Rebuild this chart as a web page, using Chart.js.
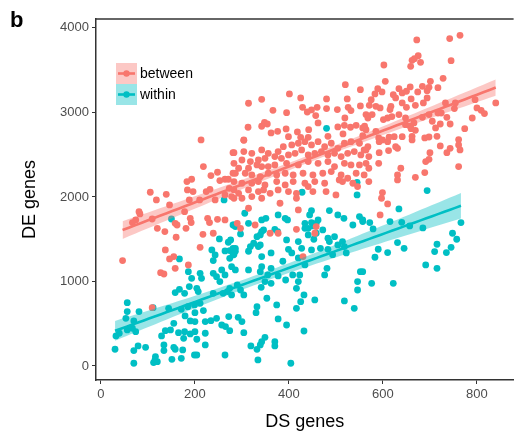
<!DOCTYPE html>
<html lang="en">
<head>
<meta charset="UTF-8">
<title>DE genes vs DS genes</title>
<style>
  html, body { margin: 0; padding: 0; background: #fff; }
  #wrap { width: 517px; height: 437px; }
</style>
</head>
<body>
<div id="wrap"><canvas id="chart" width="517" height="437"></canvas></div>
<script src="https://cdn.jsdelivr.net/npm/chart.js"></script>
<script>
// [DS genes, DE genes] per comparison
const between = [
  [520,3328],[552,3269],[401,3218],[342,3155],[425,3171],[480,3159],[314,3108],[366,3025],[395,2997],[429,3060],
  [448,3029],[439,3005],[460,3060],[457,2962],[480,3045],[503,3033],[524,3159],[526,3060],[532,3021],[519,2934],
  [552,3076],[564,2974],[313,2824],[342,2836],[348,2883],[354,2863],[362,2757],[376,2776],[394,2804],[399,2713],
  [418,2769],[442,2796],[462,2875],[504,2828],[518,2847],[531,2824],[543,2847],[557,2816],[557,2725],[304,2670],
  [425,2705],[441,2705],[483,2717],[515,2745],
  [672,3857],[742,3873],[764,3912],[675,3671],[662,3616],[667,3636],[680,3593],[659,3545],[602,3561],[745,3612],
  [605,3368],[728,3403],[701,3368],[684,3309],[698,3297],[717,3293],[694,3257],[674,3242],[658,3301],[650,3250],
  [634,3281],[641,3230],[622,3210],[627,3171],[589,3281],[598,3242],[583,3218],[575,3151],[571,3084],[577,2974],
  [568,2934],[585,3072],[594,3053],[617,3072],[615,3033],[641,3112],[650,3060],[660,3159],[669,3084],[694,3171],
  [686,3112],[634,2974],[648,2934],[610,2934],[601,2915],[619,2950],[684,2942],[698,2974],[717,2993],[724,2993],
  [736,2942],[705,2895],[722,2863],[712,2816],[743,2863],[733,3112],[754,3112],[752,3045],[796,3151],[800,3053],
  [809,3025],[816,2986],[840,3112],[790,2934],[774,2808],[648,2855],[658,2836],[666,2875],[669,2788],[660,2808],
  [662,2717],[641,2713],[624,2713],[613,2706],[591,2698],[564,2796],[561,2836],[689,2698],[698,2709],[715,2717],
  [761,2678],[585,2776],
  [213,2674],[281,2524],[218,2359],[234,2252],[248,2292],[183,2181],[193,2209],[253,2193],[264,2209],[271,2209],
  [281,2280],[184,2083],[196,2063],[105,2055],[139,2031],[118,1964],[146,1905],[188,1964],[210,1964],[224,2063],
  [232,2090],[243,1964],[273,2102],[264,2024],[278,2004],[81,1826],[83,1799],[74,1728],[67,1696],[109,1739],
  [178,1826],[158,1688],[162,1668],[190,1747],[192,1696],[120,1629],[136,1590],[181,1629],[160,1523],[227,1747],
  [231,1696],[248,1735],[264,1728],[217,1558],[239,1570],[211,1404],[137,1373],[155,1294],[146,1266],[46,1247],
  [158,1155],[186,1195],[127,1104],[134,1088],[109,690],
  [304,2674],[283,2524],[304,2536],[321,2516],[342,2556],[356,2516],[377,2536],[388,2595],[406,2615],[420,2635],
  [434,2654],[448,2615],[462,2654],[476,2595],[490,2635],[504,2575],[518,2635],[532,2654],[550,2635],[560,2556],
  [553,2497],[539,2536],[525,2516],[511,2477],[497,2516],[483,2497],[469,2536],[455,2516],[441,2497],[427,2556],
  [413,2516],[399,2497],[384,2457],[370,2477],[349,2457],[335,2437],[318,2418],[300,2437],[283,2398],[293,2339],
  [314,2339],[332,2378],[342,2359],[356,2359],[370,2378],[395,2398],[420,2378],[441,2418],[462,2398],[483,2418],
  [497,2359],[518,2398],[532,2378],[550,2378],[564,2398],[286,2280],[307,2280],[321,2260],[339,2240],[356,2280],
  [374,2260],[392,2280],[409,2260],[430,2280],[451,2260],[472,2280],[490,2300],[511,2260],[525,2221],[543,2280],
  [560,2260],[283,2181],[300,2162],[321,2162],[335,2181],[349,2142],[374,2181],[392,2142],[409,2181],[434,2162],
  [455,2181],[476,2162],[507,2201],[514,2181],[536,2162],[283,2083],[293,2043],[314,2083],[335,2063],[346,2083],
  [360,2043],[377,2083],[399,2063],[416,2043],[441,2122],[451,2063],[479,2063],[500,2024],[546,2122],[283,1984],
  [300,1984],[321,2004],[342,1984],[381,1925],[416,1984],[420,1846],[314,1866],[297,1629],[290,1688],[328,1668],
  [360,1570],[377,1570],[416,1617],[458,1649],[455,1570],[430,1294],
  [592,2654],[599,2674],[610,2654],[627,2595],[631,2575],[612,2548],[592,2524],[568,2595],[564,2556],[570,2477],
  [591,2398],[570,2339],[570,2181],[631,2260],[631,2201],[638,2339],[669,2232],[689,2288],[691,2418],[698,2445],
  [700,2524],[722,2603],[736,2524],[743,2575],[761,2615],[764,2556],[761,2359],[662,2674],[599,2051],[597,1984],
  [610,1917],[594,1787]
];

const within = [
  [480,2812],
  [262,1964],[150,1739],[281,1668],[252,1503],[271,1464],[236,1373],[243,1314],[264,1361],[274,1365],[281,1392],
  [274,1274],[281,1314],[239,1247],[167,1266],
  [428,2055],[545,2173],[545,2024],[306,1807],[286,1649],[283,1668],[314,1688],[342,1728],[351,1747],[377,1787],
  [392,1747],[397,1728],[448,1838],[444,1787],[486,1838],[504,1787],[517,1747],[550,1767],[557,1708],[462,1728],
  [458,1688],[448,1696],[434,1688],[434,1629],[441,1629],[451,1657],[472,1609],[536,1668],[346,1609],[342,1590],
  [370,1617],[376,1590],[332,1530],[339,1550],[297,1562],[325,1452],[339,1432],[335,1412],[318,1412],[286,1392],
  [276,1491],[395,1491],[420,1472],[441,1550],[453,1499],[458,1570],[483,1511],[486,1472],[497,1530],[504,1432],
  [514,1472],[518,1412],[483,1380],[467,1392],[427,1392],[448,1373],[399,1380],[406,1337],[362,1337],[342,1294],
  [314,1357],[286,1357],[283,1318],[493,1317],[522,1337],[420,1278],[387,1239],
  [694,2075],[634,1858],[557,1728],[572,1696],[579,1621],[615,1708],[640,1700],[657,1657],[685,1633],[766,1696],
  [748,1570],[757,1499],[715,1440],[710,1353],[735,1341],[745,1404],[631,1460],[645,1392],[590,1381],[610,1341],
  [583,1286],[691,1196],
  [278,1175],[186,1116],[211,1096],[239,1096],[246,1057],[257,1136],[264,1077],[193,1037],[214,1037],[253,998],
  [188,939],[158,868],[167,907],[178,860],[204,919],[207,880],[239,860],[260,860],[269,880],[278,840],
  [274,919],[56,749],[56,643],[81,643],[53,564],[70,533],[111,690],[144,682],[171,670],[185,702],
  [199,722],[211,741],[200,631],[218,655],[179,592],[190,533],[200,525],[155,505],[222,525],[234,536],
  [246,564],[257,485],[265,466],[274,418],[56,426],[67,446],[39,387],[32,355],[74,406],[137,418],
  [148,426],[129,355],[165,394],[178,406],[190,379],[200,406],[176,327],[204,316],[222,387],[222,249],
  [79,237],[95,221],[70,182],[30,198],[134,249],[134,182],[155,221],[158,198],[174,190],[171,91],
  [151,79],[116,111],[115,71],[112,40],[120,51],[199,130],[204,130],[264,130],[70,32],
  [314,1136],[286,1136],[342,1175],[362,1155],[434,1195],[408,1077],[423,1077],[339,1116],[355,1077],[377,1065],
  [349,998],[362,978],[341,931],[393,1017],[420,998],[416,919],[476,1077],[481,1155],[552,1116],[546,998],
  [546,899],[432,840],[425,761],[455,781],[518,769],[539,682],[374,722],[416,682],[353,801],[332,702],
  [330,631],[290,958],[297,899],[304,840],[272,584],[292,576],[300,525],[304,394],[377,556],[395,485],
  [432,414],[349,339],[342,288],[339,249],[370,288],[370,237],[319,237],[332,197],[334,71],[404,32],
  [715,1155],[576,978],[622,978],[557,1116]
];

const groupNames = ['between', 'within'];
const xTicks = [0, 200, 400, 600, 800];
const yTicks = [0, 1000, 2000, 3000, 4000];

const RED = '#F8766D';
const TEAL = '#00BFC4';
const RED_BAND = 'rgba(248,118,109,0.4)';
const TEAL_BAND = 'rgba(0,191,196,0.4)';

// least-squares line with 95% confidence band, like geom_smooth(method = "lm")
function lmFit(pts) {
  const n = pts.length;
  let mx = 0, my = 0;
  pts.forEach(p => { mx += p[0]; my += p[1]; });
  mx /= n; my /= n;
  let sxx = 0, sxy = 0;
  pts.forEach(p => { sxx += (p[0] - mx) ** 2; sxy += (p[0] - mx) * (p[1] - my); });
  const b = sxy / sxx, a = my - b * mx;
  let sse = 0;
  pts.forEach(p => { sse += (p[1] - a - b * p[0]) ** 2; });
  const s = Math.sqrt(sse / (n - 2));
  const xs = pts.map(p => p[0]);
  const lo = Math.min(...xs), hi = Math.max(...xs);
  const line = [], upper = [], lower = [];
  const steps = 60;
  for (let i = 0; i <= steps; i++) {
    const x = lo + (hi - lo) * i / steps;
    const y = a + b * x;
    const ci = 1.96 * s * Math.sqrt(1 / n + (x - mx) ** 2 / sxx);
    line.push({ x, y });
    upper.push({ x, y: y + ci });
    lower.push({ x, y: y - ci });
  }
  return { line, upper, lower };
}

const fitB = lmFit(between);
const fitW = lmFit(within);
const toXY = pts => pts.map(p => ({ x: p[0], y: p[1] }));

function pointSet(label, pts, color) {
  return { label, data: toXY(pts), backgroundColor: color, borderWidth: 0,
           pointRadius: 3.4, pointHoverRadius: 3.4, showLine: false, order: 3 };
}
function bandSet(data, color, fill) {
  return { data, showLine: true, borderWidth: 0, borderColor: 'transparent', pointRadius: 0,
           backgroundColor: color, fill, order: 2 };
}
function lineSet(data, color) {
  return { data, showLine: true, borderWidth: 2.6, borderColor: color, pointRadius: 0,
           fill: false, order: 1 };
}

const legendKeys = [
  { name: groupNames[0], color: RED, band: RED_BAND },
  { name: groupNames[1], color: TEAL, band: TEAL_BAND }
];

const decorations = {
  id: 'decorations',
  afterDraw(chart) {
    const ctx = chart.ctx;
    const area = chart.chartArea;
    ctx.save();
    // top frame line
    ctx.strokeStyle = '#333333';
    ctx.lineWidth = 1.5;
    ctx.beginPath();
    ctx.moveTo(area.left, area.top);
    ctx.lineTo(area.right, area.top);
    ctx.stroke();

    // legend inside the panel
    const kx = area.left + 20, ky = area.top + 44, ks = 21;
    legendKeys.forEach((k, i) => {
      const y = ky + i * ks;
      ctx.fillStyle = k.band;
      ctx.fillRect(kx, y, ks, ks);
      ctx.strokeStyle = k.color;
      ctx.lineWidth = 2.6;
      ctx.beginPath();
      ctx.moveTo(kx + 2, y + ks / 2);
      ctx.lineTo(kx + ks - 2, y + ks / 2);
      ctx.stroke();
      ctx.fillStyle = k.color;
      ctx.beginPath();
      ctx.arc(kx + ks / 2, y + ks / 2, 3.2, 0, Math.PI * 2);
      ctx.fill();
      ctx.fillStyle = '#000';
      ctx.font = '14px "Liberation Sans", Arial, sans-serif';
      ctx.textBaseline = 'middle';
      ctx.textAlign = 'left';
      ctx.fillText(k.name, kx + ks + 3, y + ks / 2 + 1);
    });

    // panel letter
    ctx.fillStyle = '#000';
    ctx.font = 'bold 22px "Liberation Sans", Arial, sans-serif';
    ctx.textBaseline = 'alphabetic';
    ctx.fillText('b', 10, 27);
    ctx.restore();
  }
};

Chart.defaults.font.family = '"Liberation Sans", Arial, sans-serif';

new Chart(document.getElementById('chart'), {
  type: 'scatter',
  data: {
    datasets: [
      pointSet(groupNames[0], between, RED),
      pointSet(groupNames[1], within, TEAL),
      bandSet(fitB.upper, RED_BAND, '+1'),
      bandSet(fitB.lower, RED_BAND, false),
      bandSet(fitW.upper, TEAL_BAND, '+1'),
      bandSet(fitW.lower, TEAL_BAND, false),
      lineSet(fitB.line, RED),
      lineSet(fitW.line, TEAL)
    ]
  },
  options: {
    responsive: false,
    animation: false,
    events: [],
    layout: { padding: { top: 19, left: 0, right: 0, bottom: 0 } },
    plugins: { legend: { display: false }, tooltip: { enabled: false } },
    scales: {
      x: {
        type: 'linear',
        min: -10.5,
        max: 878,
        afterBuildTicks: s => { s.ticks = xTicks.map(v => ({ value: v })); },
        afterFit: s => { s.height = 57; },
        grid: { drawOnChartArea: false, drawTicks: true, tickLength: 4, color: '#333333' },
        border: { display: true, color: '#333333', width: 1.5 },
        ticks: { color: '#4D4D4D', font: { size: 13 }, padding: 3, maxRotation: 0,
                 callback: v => String(v) },
        title: { display: true, text: 'DS genes', color: '#000', font: { size: 18 },
                 padding: { top: 0, bottom: 4 } }
      },
      y: {
        type: 'linear',
        min: -166,
        max: 4105,
        afterBuildTicks: s => { s.ticks = yTicks.map(v => ({ value: v })); },
        afterFit: s => { s.width = 96; },
        grid: { drawOnChartArea: false, drawTicks: true, tickLength: 4, color: '#333333' },
        border: { display: true, color: '#333333', width: 1.5 },
        ticks: { color: '#4D4D4D', font: { size: 13 }, padding: 3,
                 callback: v => String(v) },
        title: { display: true, text: 'DE genes', color: '#000', font: { size: 18 },
                 padding: { top: 19, bottom: 0 } }
      }
    }
  },
  plugins: [decorations]
});
</script>
</body>
</html>
